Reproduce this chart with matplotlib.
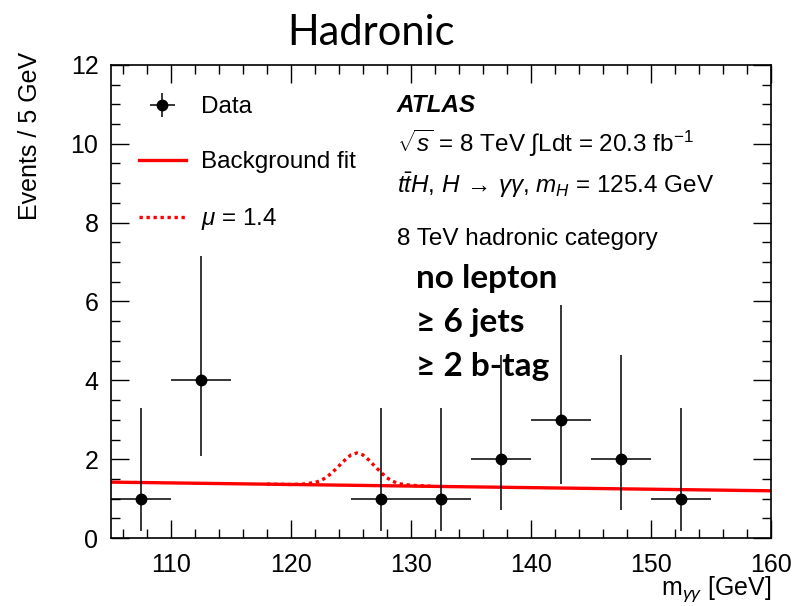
import matplotlib
matplotlib.use("Agg")
import matplotlib.pyplot as plt
from matplotlib.lines import Line2D
import numpy as np

plt.rcParams['font.family'] = ['Liberation Sans', 'DejaVu Sans']
plt.rcParams['mathtext.fontset'] = 'custom'
plt.rcParams['mathtext.rm'] = 'Liberation Sans'
plt.rcParams['mathtext.it'] = 'Liberation Sans:italic'
plt.rcParams['mathtext.bf'] = 'Liberation Sans:bold'

# data points (bin centres, counts, poisson errors)
m_data = [107.5, 112.5, 127.5, 132.5, 137.5, 142.5, 147.5, 152.5]
n_data = [1, 4, 1, 1, 2, 3, 2, 1]
err_lo = [0.83, 1.91, 0.83, 0.83, 1.29, 1.63, 1.29, 0.83]
err_hi = [2.30, 3.16, 2.30, 2.30, 2.64, 2.92, 2.64, 2.30]
bin_half = 2.5

# background fit
bkg_x = [105, 120, 140, 160]
bkg_y = [1.42, 1.36, 1.28, 1.20]

# signal + background for mu = 1.4
mu_x = [118, 120, 121, 122, 122.5, 123, 123.5, 124, 124.5, 125, 125.5,
        126, 126.5, 127, 127.5, 128, 128.5, 129, 130, 132]
mu_y = [1.37, 1.36, 1.37, 1.41, 1.46, 1.55, 1.68, 1.83, 1.98, 2.11, 2.16,
        2.11, 1.98, 1.82, 1.67, 1.53, 1.44, 1.38, 1.34, 1.31]

red = '#ff0000'
dots = (0, (1, 1.1))

fig = plt.figure(figsize=(7.98, 6.06), dpi=100)
ax = fig.add_axes([0.139, 0.112, 0.827, 0.781])

ax.plot(bkg_x, bkg_y, color=red, lw=2.4, solid_capstyle='butt', zorder=2)
ax.plot(mu_x, mu_y, color=red, lw=2.4, ls=dots, zorder=2)
ax.errorbar(m_data, n_data, xerr=bin_half, yerr=[err_lo, err_hi],
            fmt='o', color='black', ms=7.5, elinewidth=1.1, capsize=0, zorder=3)

ax.set_xlim(105, 160)
ax.set_ylim(0, 12)
ax.set_xticks(np.arange(110, 161, 10))
ax.set_xticks(np.arange(106, 160, 2), minor=True)
ax.set_yticks(np.arange(0, 13, 2))
ax.set_yticks(np.arange(0, 12.1, 0.5), minor=True)
ax.tick_params(which='both', direction='in', top=True, right=True, labelsize=18, width=1.0)
ax.tick_params(which='major', length=13, pad=9)
ax.tick_params(axis='x', which='major', pad=11)
ax.tick_params(which='minor', length=6.5)
for s in ax.spines.values():
    s.set_linewidth(1.2)

ax.set_xlabel(r'm$_{\gamma\gamma}$ [GeV]', fontsize=18, loc='right', labelpad=-2)
fig.text(0.038, 0.775, 'Events / 5 GeV', rotation=90, fontsize=18, ha='center', va='center')

fig.text(0.465, 0.945, 'Hadronic', fontsize=30, ha='center', va='center', family=['Lato', 'DejaVu Sans'])

# legend
data_h = ax.errorbar([], [], xerr=[], yerr=[], fmt='o', color='black', ms=7.5, elinewidth=1.1, capsize=0)
bkg_h = Line2D([], [], color=red, lw=2.4)
mu_h = Line2D([], [], color=red, lw=2.4, ls=dots)
ax.legend([data_h, bkg_h, mu_h], ['Data', 'Background fit', r'$\mu$ = 1.4'],
          loc='upper left', bbox_to_anchor=(0.009, 0.98), frameon=False, fontsize=17.5,
          handlelength=1.95, handletextpad=0.6, labelspacing=1.36)

# ATLAS text block
fs = 17.5
ax.text(0.433, 0.901, 'ATLAS', transform=ax.transAxes, fontsize=fs, weight='bold', style='italic')
ax.text(0.433, 0.816, r'$\sqrt{s}$ = 8 TeV $\int$Ldt = 20.3 fb$^{\mathregular{-1}}$',
        transform=ax.transAxes, fontsize=fs)
ax.text(0.433, 0.729, r'$t\bar{t}H$, $H\,\rightarrow\,\gamma\gamma$, $m_{H}$ = 125.4 GeV',
        transform=ax.transAxes, fontsize=fs)
ax.text(0.433, 0.619, '8 TeV hadronic category', transform=ax.transAxes, fontsize=fs)

for txt, yy in zip(['no lepton', '≥ 6 jets', '≥ 2 b-tag'], [0.529, 0.436, 0.343]):
    ax.text(0.462, yy, txt, transform=ax.transAxes, fontsize=24, weight='bold',
            family=['Lato', 'DejaVu Sans'])

fig.savefig('out.png', dpi=100)
